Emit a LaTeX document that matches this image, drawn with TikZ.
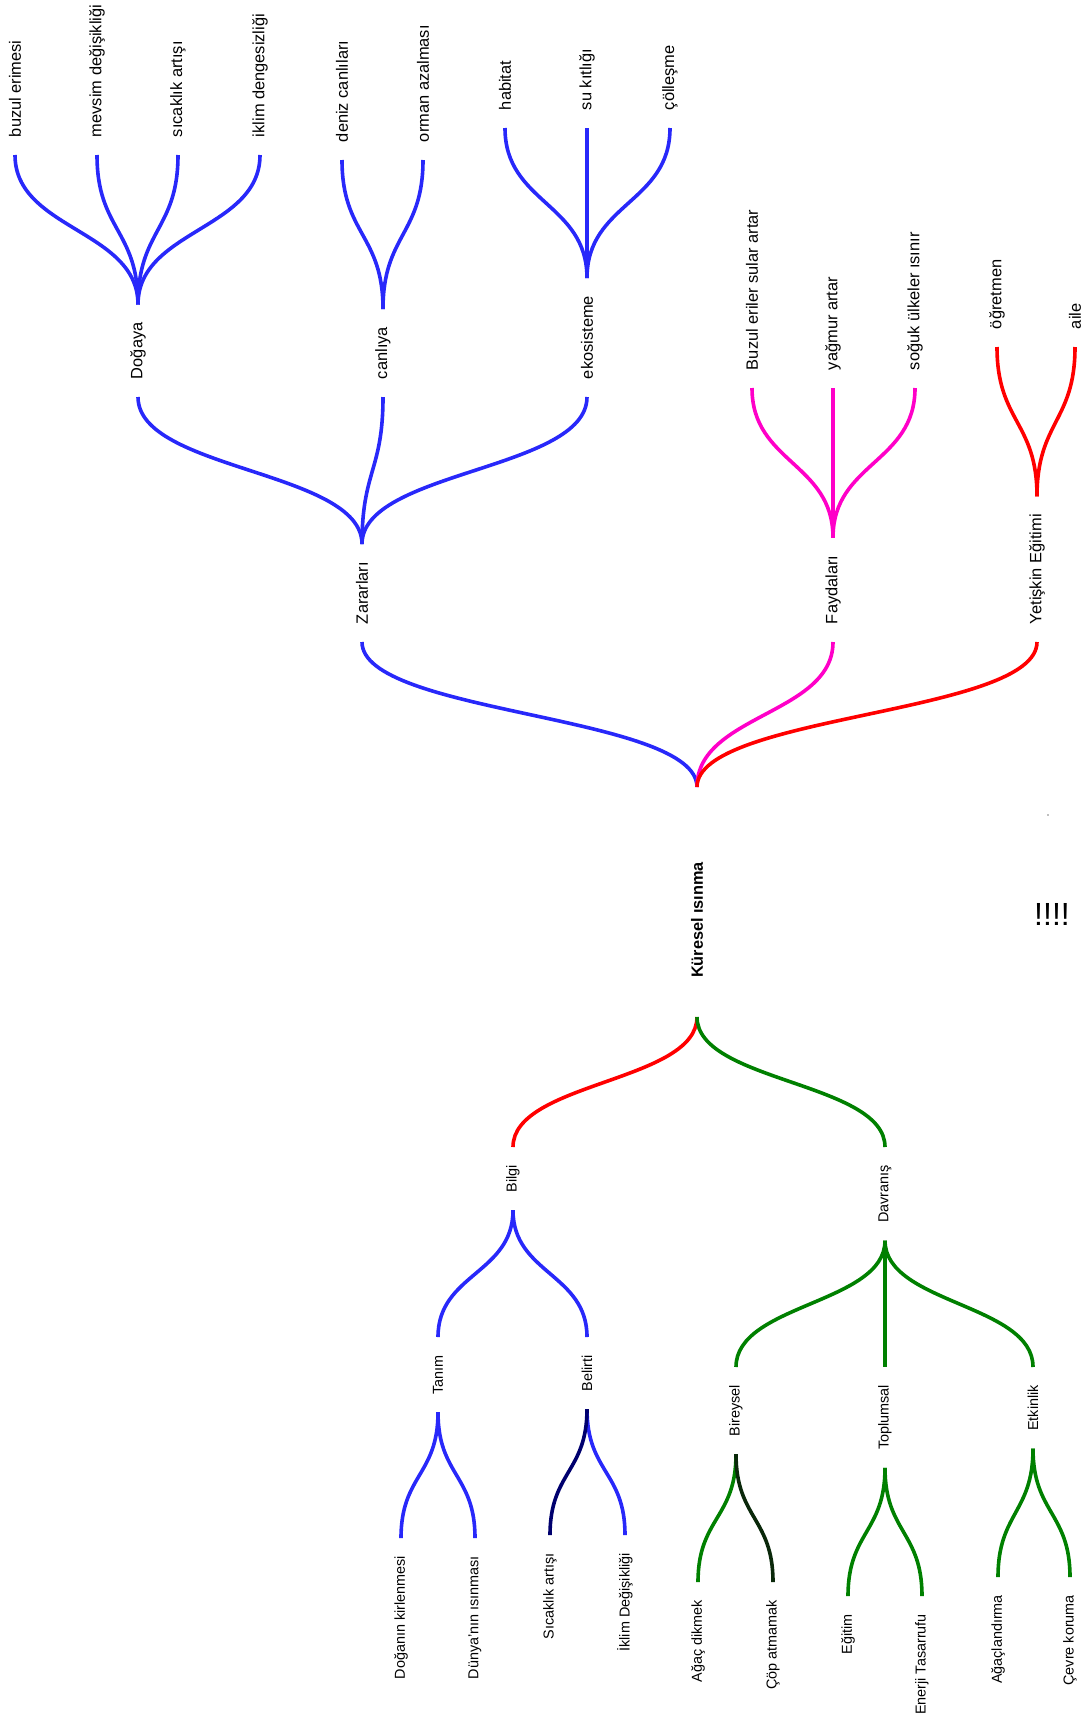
\documentclass[tikz,border=0pt]{standalone}
\usepackage{fontspec}
\setmainfont{Liberation Sans}
\usetikzlibrary{calc}

\definecolor{mapblue}{RGB}{40,40,250}
\definecolor{mappink}{RGB}{255,0,200}
\definecolor{mapred}{RGB}{255,0,0}
\definecolor{mapgreen}{RGB}{0,128,0}
\definecolor{mapnavy}{RGB}{0,0,110}
\definecolor{mapdark}{RGB}{10,40,10}

\begin{document}
\begin{tikzpicture}[
    x=1pt, y=-1pt,
    topic/.style={rotate=90, inner xsep=0pt, inner ysep=1pt, outer xsep=18pt, font=\fontsize{16.4}{19}\selectfont},
    subtopic/.style={topic, font=\fontsize{14.4}{17}\selectfont},
    branch/.style={line width=3.6pt, to path={.. controls ($(\tikztostart)!0.5!(\tikztostart|-\tikztotarget)$) and ($(\tikztotarget)!0.5!(\tikztotarget|-\tikztostart)$) .. (\tikztotarget)}}
]
    \useasboundingbox (0,0) rectangle (1083,1716);

    % Kök
    \node[topic, font=\fontsize{16.3}{19}\selectfont\bfseries] (root) at (697,920) {Küresel ısınma};
    \coordinate (rootup) at (697,787);
    \coordinate (rootdown) at (697,1017);
    \node[font=\fontsize{32}{32}\selectfont, inner sep=0pt] (mark) at (1052,914) {!!!!};
    \fill[gray] (1048,815) circle (0.8);

    % Üst dallar
    \node[topic, anchor=west] (zarar) at (362,642) {Zararları};
    \node[topic, anchor=west] (fayda) at (833,642) {Faydaları};
    \node[topic, anchor=west] (yetiskin) at (1037,642) {Yetişkin Eğitimi};

    \node[topic, anchor=west] (doga) at (138,397) {Doğaya};
    \node[topic, anchor=west] (canli) at (383,397) {canlıya};
    \node[topic, anchor=west] (eko) at (587,397) {ekosisteme};

    \node[topic, anchor=west] (buzul) at (15,155) {buzul erimesi};
    \node[topic, anchor=west] (mevsim) at (97,155) {mevsim değişikliği};
    \node[topic, anchor=west] (sicak) at (178,155) {sıcaklık artışı};
    \node[topic, anchor=west] (iklim) at (260,155) {iklim dengesizliği};
    \node[topic, anchor=west] (deniz) at (342,160) {deniz canlıları};
    \node[topic, anchor=west] (orman) at (423,160) {orman azalması};
    \node[topic, anchor=west] (habitat) at (505,128) {habitat};
    \node[topic, anchor=west] (su) at (587,128) {su kıtlığı};
    \node[topic, anchor=west] (col) at (670,128) {çölleşme};
    \node[topic, anchor=west] (erime) at (752,388) {Buzul eriler sular artar};
    \node[topic, anchor=west] (yagmur) at (833,388) {yağmur artar};
    \node[topic, anchor=west] (soguk) at (915,388) {soğuk ülkeler ısınır};
    \node[topic, anchor=west] (ogretmen) at (997,347) {öğretmen};
    \node[topic, anchor=west] (aile) at (1075,347) {aile};

    % Alt dallar
    \node[subtopic, anchor=east] (bilgi) at (513,1147) {Bilgi};
    \node[subtopic, anchor=east] (davranis) at (885,1147) {Davranış};

    \node[subtopic, anchor=east] (tanim) at (438,1337) {Tanım};
    \node[subtopic, anchor=east] (belirti) at (587,1337) {Belirti};
    \node[subtopic, anchor=east] (bireysel) at (736,1367) {Bireysel};
    \node[subtopic, anchor=east] (toplumsal) at (885,1367) {Toplumsal};
    \node[subtopic, anchor=east] (etkinlik) at (1033,1367) {Etkinlik};

    \node[subtopic, anchor=east] (kirlenme) at (401,1538) {Doğanın kirlenmesi};
    \node[subtopic, anchor=east] (isinma) at (475,1538) {Dünya'nın ısınması};
    \node[subtopic, anchor=east] (sicaklik) at (550,1535) {Sıcaklık artışı};
    \node[subtopic, anchor=east] (degisim) at (625,1535) {İklim Değişikliği};
    \node[subtopic, anchor=east] (agac) at (698,1582) {Ağaç dikmek};
    \node[subtopic, anchor=east] (cop) at (773,1582) {Çöp atmamak};
    \node[subtopic, anchor=east] (egitim) at (848,1596) {Eğitim};
    \node[subtopic, anchor=east] (enerji) at (922,1596) {Enerji Tasarrufu};
    \node[subtopic, anchor=east] (agaclandirma) at (998,1577) {Ağaçlandırma};
    \node[subtopic, anchor=east] (cevre) at (1070,1577) {Çevre koruma};

    % Bağlantılar (üst)
    \draw[branch, mapblue] (rootup) to (zarar.west);
    \draw[branch, mappink] (rootup) to (fayda.west);
    \draw[branch, mapred] (rootup) to (yetiskin.west);

    \draw[branch, mapblue] (zarar.east) to (doga.west);
    \draw[branch, mapblue] (zarar.east) to (canli.west);
    \draw[branch, mapblue] (zarar.east) to (eko.west);

    \draw[branch, mapblue] (doga.east) to (buzul.west);
    \draw[branch, mapblue] (doga.east) to (mevsim.west);
    \draw[branch, mapblue] (doga.east) to (sicak.west);
    \draw[branch, mapblue] (doga.east) to (iklim.west);
    \draw[branch, mapblue] (canli.east) to (deniz.west);
    \draw[branch, mapblue] (canli.east) to (orman.west);
    \draw[branch, mapblue] (eko.east) to (habitat.west);
    \draw[branch, mapblue] (eko.east) to (su.west);
    \draw[branch, mapblue] (eko.east) to (col.west);

    \draw[branch, mappink] (fayda.east) to (erime.west);
    \draw[branch, mappink] (fayda.east) to (yagmur.west);
    \draw[branch, mappink] (fayda.east) to (soguk.west);
    \draw[branch, mapred] (yetiskin.east) to (ogretmen.west);
    \draw[branch, mapred] (yetiskin.east) to (aile.west);

    % Bağlantılar (alt)
    \draw[branch, mapred] (rootdown) to (bilgi.east);
    \draw[branch, mapgreen] (rootdown) to (davranis.east);

    \draw[branch, mapblue] (bilgi.west) to (tanim.east);
    \draw[branch, mapblue] (bilgi.west) to (belirti.east);
    \draw[branch, mapblue] (tanim.west) to (kirlenme.east);
    \draw[branch, mapblue] (tanim.west) to (isinma.east);
    \draw[branch, mapblue] (belirti.west) to (degisim.east);
    \draw[branch, mapnavy] (belirti.west) to (sicaklik.east);

    \draw[branch, mapgreen] (davranis.west) to (bireysel.east);
    \draw[branch, mapgreen] (davranis.west) to (toplumsal.east);
    \draw[branch, mapgreen] (davranis.west) to (etkinlik.east);
    \draw[branch, mapgreen] (bireysel.west) to (agac.east);
    \draw[branch, mapdark] (bireysel.west) to (cop.east);
    \draw[branch, mapgreen] (toplumsal.west) to (egitim.east);
    \draw[branch, mapgreen] (toplumsal.west) to (enerji.east);
    \draw[branch, mapgreen] (etkinlik.west) to (agaclandirma.east);
    \draw[branch, mapgreen] (etkinlik.west) to (cevre.east);
\end{tikzpicture}
\end{document}
